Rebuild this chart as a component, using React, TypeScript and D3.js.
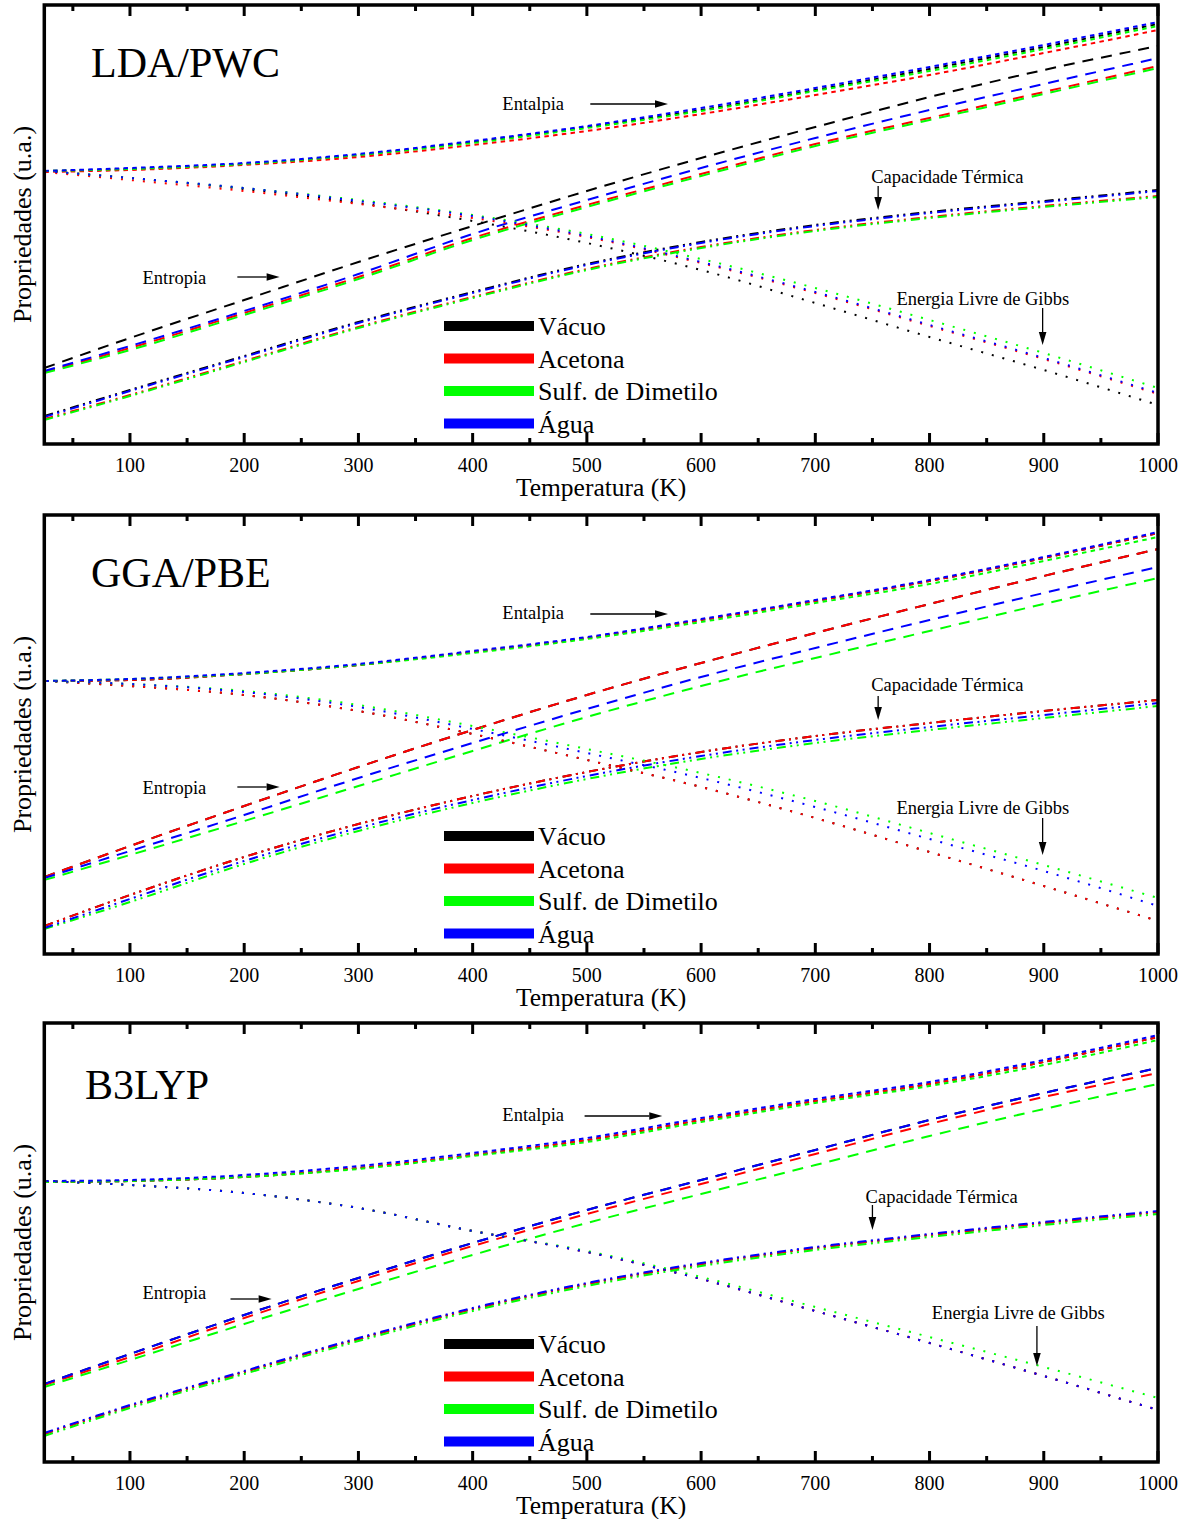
import React from 'react';
import * as d3 from 'd3';

// temperaturas (K) em que as curvas foram lidas
const temperaturas = [25, 100, 200, 300, 400, 500, 600, 700, 800, 900, 1000];
const solventes = ['Vácuo', 'Acetona', 'Sulf. de Dimetilo', 'Água'];
const cores = ['#000000', '#ff0000', '#00ff00', '#0000ff'];
const ticksMaiores = [100, 200, 300, 400, 500, 600, 700, 800, 900, 1000];
const ticksMenores = [50, 150, 250, 350, 450, 550, 650, 750, 850, 950];

// valores em u.a. — ordem das linhas: Vácuo, Acetona, Sulf. de Dimetilo, Água
const ldaEntalpia = [
  [273, 275, 280, 289, 302, 317, 334, 354, 375, 397, 420],
  [272, 274, 279, 287, 299, 313, 330, 349, 369, 391, 414],
  [273, 275, 280, 289, 301, 316, 333, 353, 373, 395, 418],
  [273, 276, 281, 290, 303, 318, 336, 356, 377, 399, 422],
];
const ldaEntropia = [
  [76, 106, 144, 182, 218, 253, 286, 317, 347, 374, 398],
  [72, 96, 131, 167, 206, 239, 270, 300, 326, 352, 378],
  [71, 94, 129, 165, 204, 237, 268, 298, 324, 350, 376],
  [73, 98, 133, 170, 210, 244, 276, 306, 334, 360, 386],
];
const ldaGibbs = [
  [273, 266, 255, 241, 223, 201, 174, 141, 107, 74, 39],
  [272, 264, 253, 240, 226, 207, 181, 151, 118, 85, 50],
  [273, 266, 256, 244, 229, 210, 185, 156, 124, 91, 56],
  [273, 266, 256, 243, 228, 208, 182, 152, 119, 86, 51],
];
const ldaCapacidade = [
  [28, 54, 88, 122, 152, 180, 202, 219, 232, 243, 254],
  [25, 49, 83, 117, 147, 175, 197, 214, 227, 238, 248],
  [24, 48, 82, 116, 146, 174, 196, 213, 226, 237, 247],
  [27, 53, 87, 121, 151, 179, 201, 218, 231, 242, 253],
];

const ggaEntalpia = [
  [273, 274, 280, 289, 302, 316, 334, 353, 373, 396, 421],
  [273, 274, 280, 289, 302, 316, 334, 353, 373, 396, 421],
  [273, 275, 280, 289, 301, 315, 332, 351, 370, 393, 417],
  [273, 275, 281, 290, 303, 317, 335, 354, 374, 397, 422],
];
const ggaEntropia = [
  [77, 108, 148, 187, 224, 259, 291, 321, 350, 378, 405],
  [77, 108, 148, 187, 224, 259, 291, 321, 350, 378, 405],
  [74, 99, 133, 168, 203, 237, 268, 296, 323, 350, 376],
  [76, 103, 139, 176, 211, 245, 277, 306, 334, 361, 387],
];
const ggaGibbs = [
  [273, 268, 259, 243, 220, 194, 167, 136, 102, 68, 33],
  [273, 268, 259, 243, 220, 194, 167, 136, 102, 68, 33],
  [273, 270, 263, 249, 228, 205, 181, 153, 121, 89, 56],
  [273, 270, 262, 247, 225, 201, 176, 147, 115, 83, 48],
];
const ggaCapacidade = [
  [28, 59, 97, 130, 158, 182, 202, 218, 231, 243, 254],
  [28, 59, 97, 130, 158, 182, 202, 218, 231, 243, 254],
  [25, 52, 90, 123, 151, 175, 195, 211, 224, 236, 248],
  [26, 55, 93, 126, 154, 178, 198, 214, 227, 239, 251],
];

const b3lypEntalpia = [
  [280, 281, 285, 294, 307, 322, 342, 361, 378, 400, 425],
  [280, 281, 285, 294, 307, 322, 342, 361, 378, 400, 425],
  [280, 281, 285, 293, 306, 320, 340, 359, 376, 397, 422],
  [281, 282, 287, 296, 309, 324, 344, 363, 380, 402, 427],
];
const b3lypEntropia = [
  [78, 108, 147, 184, 219, 252, 282, 312, 342, 369, 394],
  [77, 105, 144, 181, 216, 248, 278, 308, 338, 365, 389],
  [75, 102, 138, 173, 207, 239, 268, 297, 326, 353, 378],
  [78, 108, 147, 184, 219, 252, 282, 312, 342, 369, 394],
];
const b3lypGibbs = [
  [281, 277, 269, 254, 231, 210, 183, 151, 119, 86, 52],
  [281, 277, 269, 254, 231, 210, 183, 151, 119, 86, 52],
  [281, 277, 269, 254, 231, 211, 185, 155, 125, 95, 64],
  [281, 277, 269, 254, 231, 210, 183, 151, 119, 86, 52],
];
const b3lypCapacidade = [
  [28, 56, 90, 123, 153, 178, 198, 214, 227, 239, 250],
  [28, 56, 90, 123, 153, 178, 198, 214, 227, 239, 250],
  [26, 54, 88, 121, 151, 176, 196, 212, 225, 237, 248],
  [29, 57, 91, 124, 154, 179, 199, 215, 228, 240, 251],
];

// anotações: texto em (T, v), seta de (T1, v1) até (T2, v2)
const anotacoesLda = [
  { texto: 'Entalpia', t: 426, v: 334, t1: 503, v1: 340, t2: 571, v2: 340 },
  { texto: 'Capacidade Térmica', t: 749, v: 261, t1: 755, v1: 258, t2: 755, v2: 234 },
  { texto: 'Entropia', t: 111, v: 160, t1: 194, v1: 167, t2: 231, v2: 167 },
  { texto: 'Energia Livre de Gibbs', t: 771, v: 139, t1: 899, v1: 136, t2: 899, v2: 99 },
];
const anotacoesGga = [
  { texto: 'Entalpia', t: 426, v: 335, t1: 503, v1: 340, t2: 571, v2: 340 },
  { texto: 'Capacidade Térmica', t: 749, v: 263, t1: 755, v1: 258, t2: 755, v2: 234 },
  { texto: 'Entropia', t: 111, v: 160, t1: 194, v1: 167, t2: 231, v2: 167 },
  { texto: 'Energia Livre de Gibbs', t: 771, v: 140, t1: 899, v1: 136, t2: 899, v2: 99 },
];
const anotacoesB3lyp = [
  { texto: 'Entalpia', t: 426, v: 341, t1: 498, v1: 346, t2: 566, v2: 346 },
  { texto: 'Capacidade Térmica', t: 744, v: 259, t1: 750, v1: 257, t2: 750, v2: 232 },
  { texto: 'Entropia', t: 111, v: 163, t1: 188, v1: 163, t2: 224, v2: 163 },
  { texto: 'Energia Livre de Gibbs', t: 802, v: 143, t1: 894, v1: 136, t2: 894, v2: 96 },
];

const paineis = [
  { titulo: 'LDA/PWC', base: 444, tituloX: 91, tituloY: 77, entalpia: ldaEntalpia, entropia: ldaEntropia, gibbs: ldaGibbs, capacidade: ldaCapacidade, anotacoes: anotacoesLda },
  { titulo: 'GGA/PBE', base: 954, tituloX: 91, tituloY: 587, entalpia: ggaEntalpia, entropia: ggaEntropia, gibbs: ggaGibbs, capacidade: ggaCapacidade, anotacoes: anotacoesGga },
  { titulo: 'B3LYP', base: 1462, tituloX: 85, tituloY: 1099, entalpia: b3lypEntalpia, entropia: b3lypEntropia, gibbs: b3lypGibbs, capacidade: b3lypCapacidade, anotacoes: anotacoesB3lyp },
];

const W = 1192;
const H = 1519;
const altura = 439;
const fonte = "'Liberation Serif', 'Times New Roman', serif";

const x = d3.scaleLinear().domain([25, 1000]).range([44.3, 1158]);

const tracos = {
  entalpia: '4.5,4.3',
  entropia: '11,8',
  gibbs: '2,9',
  capacidade: '9,4.5,2,4.5,2,5',
};

const Painel = ({ p }) => {
  const y = d3.scaleLinear().domain([0, altura]).range([p.base, p.base - altura]);
  const topo = p.base - altura;
  const linha = d3.line<number>()
    .x((_, i) => x(temperaturas[i]))
    .y(d => y(d))
    .curve(d3.curveMonotoneX);

  const propriedades = ['capacidade', 'entropia', 'entalpia', 'gibbs'];

  return (
    <g>
      {propriedades.map(prop => (
        <g key={prop}>
          {p[prop].map((serie, i) => (
            <path key={i} d={linha(serie)} fill="none" stroke={cores[i]}
              strokeWidth={2} strokeDasharray={tracos[prop]} />
          ))}
        </g>
      ))}

      {/* moldura */}
      <rect x={x(25)} y={topo} width={x(1000) - x(25)} height={altura}
        fill="none" stroke="#000" strokeWidth={3.5} />

      {ticksMaiores.map(t => (
        <g key={'M' + t}>
          <line x1={x(t)} x2={x(t)} y1={p.base} y2={p.base - 11} stroke="#000" strokeWidth={3} />
          <line x1={x(t)} x2={x(t)} y1={topo} y2={topo + 11} stroke="#000" strokeWidth={3} />
          <text x={x(t)} y={p.base + 28} textAnchor="middle" fontSize={20} fontFamily={fonte}>{t}</text>
        </g>
      ))}
      {ticksMenores.map(t => (
        <g key={'m' + t}>
          <line x1={x(t)} x2={x(t)} y1={p.base} y2={p.base - 6} stroke="#000" strokeWidth={3} />
          <line x1={x(t)} x2={x(t)} y1={topo} y2={topo + 6} stroke="#000" strokeWidth={3} />
        </g>
      ))}

      <text x={601} y={p.base + 52} textAnchor="middle" fontSize={25.5} fontFamily={fonte}>Temperatura (K)</text>
      <text transform={`translate(31,${topo + altura / 2}) rotate(-90)`} textAnchor="middle"
        fontSize={26} fontFamily={fonte}>Propriedades (u.a.)</text>

      <text x={p.tituloX} y={p.tituloY} fontSize={42} fontFamily={fonte}>{p.titulo}</text>

      {p.anotacoes.map(a => {
        const x1 = x(a.t1), y1 = y(a.v1), x2 = x(a.t2), y2 = y(a.v2);
        const ang = Math.atan2(y2 - y1, x2 - x1);
        const comp = 13, larg = 3.8;
        const bx = x2 - comp * Math.cos(ang), by = y2 - comp * Math.sin(ang);
        const px = -Math.sin(ang) * larg, py = Math.cos(ang) * larg;
        return (
          <g key={a.texto}>
            <text x={x(a.t)} y={y(a.v)} fontSize={18.5} fontFamily={fonte}>{a.texto}</text>
            <line x1={x1} y1={y1} x2={bx} y2={by} stroke="#000" strokeWidth={1.3} />
            <polygon points={`${x2},${y2} ${bx + px},${by + py} ${bx - px},${by - py}`} fill="#000" />
          </g>
        );
      })}

      {solventes.map((s, i) => (
        <g key={s}>
          <rect x={444} y={topo + 316 + i * 32.5} width={90} height={10} fill={cores[i]} />
          <text x={538} y={topo + 330 + i * 32.5} fontSize={26} fontFamily={fonte}>{s}</text>
        </g>
      ))}
    </g>
  );
};

export default function App() {
  return (
    <svg width={W} height={H} style={{ position: 'absolute', left: 0, top: 0, background: '#fff' }}>
      <rect width={W} height={H} fill="#fff" />
      {paineis.map(p => <Painel key={p.titulo} p={p} />)}
    </svg>
  );
}
